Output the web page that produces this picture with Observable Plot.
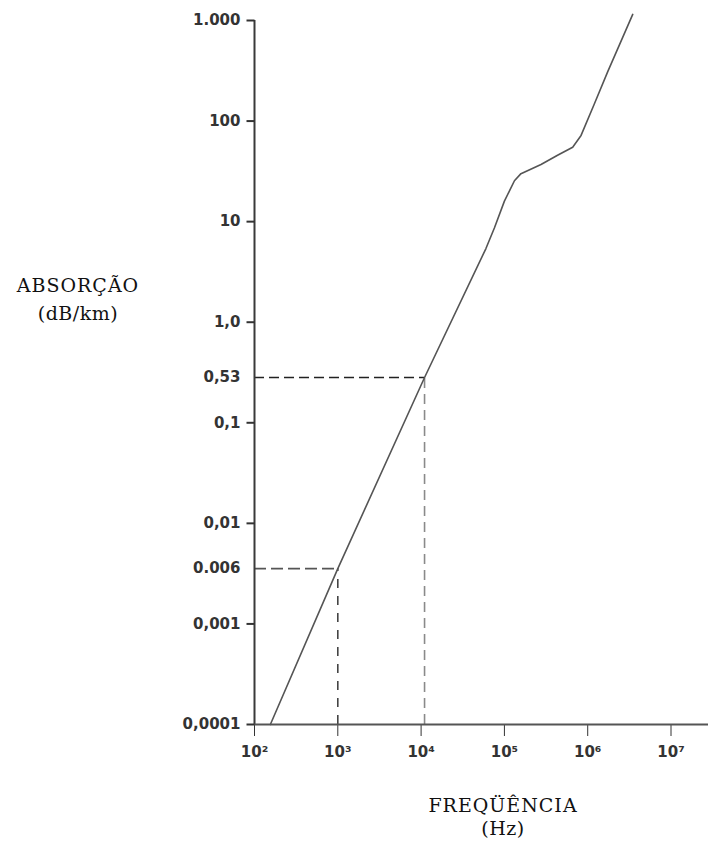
<!DOCTYPE html>
<html>
<head>
<meta charset="utf-8">
<script src="https://cdn.jsdelivr.net/npm/d3@7"></script>
<script src="https://cdn.jsdelivr.net/npm/@observablehq/plot@0.6"></script>
<style>
  html, body { margin: 0; padding: 0; background: #fff; }
  #wrap { position: relative; width: 714px; height: 841px; }
  .lab { position: absolute; font-family: "DejaVu Serif", serif; font-size: 19px; color: #111; text-align: center; white-space: nowrap; }
</style>
</head>
<body>
<div id="wrap"></div>
<script>
// Frequency (Hz) and absorption (dB/km)
const curveFreq = [155, 1000, 11000, 60000, 76000, 100000, 132000, 158000, 275000, 440000, 660000, 832000, 1200000, 1740000, 2630000, 3470000];
const curveAbs  = [0.0001, 0.006, 0.53, 5.4, 8.7, 16, 25.5, 30, 37, 46, 55, 72, 148, 310, 680, 1150];

// dashed guide lines (frequency, absorption)
const guideFreq = [1000, 11000];
const guideAbs  = [0.006, 0.53];

// y tick values and labels as printed
const yTicks      = [0.0001, 0.001, 0.006, 0.01, 0.1, 0.53, 1, 10, 100, 1000];
const yTickLabels = ["0,0001", "0,001", "0.006", "0,01", "0,1", "0,53", "1,0", "10", "100", "1.000"];
// decade level at which each printed tick sits on the original axis
const yTickLevels = [-4, -3, -2.45, -2, -1, -0.55, 0, 1, 2, 3];

// x ticks
const xTicks = [1e2, 1e3, 1e4, 1e5, 1e6, 1e7];
const xTickLabels = ["10²", "10³", "10⁴", "10⁵", "10⁶", "10⁷"];

const W = 714, H = 841;
const mTop = 20, mBottom = 117, mLeft = 254, mRight = 6;
const yBottom = H - mBottom, decadePx = (yBottom - mTop) / 7;
const yRange = yTickLevels.map(l => yBottom - (l + 4) * decadePx);
const xMin = 100, xMax = Math.pow(10, 7.45);
const yMin = yTicks[0];

const idx = d3.range(curveFreq.length);
const yTickMarks = yTicks.filter(v => !guideAbs.includes(v));

// short horizontal tick pointing left from the axis
const leftTick = {draw(ctx) { ctx.moveTo(-8, 0); ctx.lineTo(0, 0); }};

const chart = Plot.plot({
  width: W,
  height: H,
  marginTop: mTop,
  marginBottom: mBottom,
  marginLeft: mLeft,
  marginRight: mRight,
  style: {fontFamily: "DejaVu Sans", fontWeight: "bold", fontSize: "15px", color: "#333", background: "#fff"},
  x: {
    type: "log",
    domain: [xMin, xMax],
    ticks: xTicks,
    tickFormat: (d) => xTickLabels[xTicks.indexOf(d)],
    tickSize: 12,
    tickPadding: 10,
    label: null
  },
  y: {
    type: "log",
    domain: yTicks,
    range: yRange,
    axis: null
  },
  marks: [
    // dashed guides
    Plot.ruleY([guideAbs[1]], {x1: xMin, x2: guideFreq[1], stroke: "#222", strokeWidth: 1.6, strokeDasharray: "10,5"}),
    Plot.ruleX([guideFreq[1]], {y1: yMin, y2: guideAbs[1], stroke: "#8a8a8a", strokeWidth: 1.6, strokeDasharray: "10,6"}),
    Plot.ruleY([guideAbs[0]], {x1: xMin, x2: guideFreq[0], stroke: "#555", strokeWidth: 1.6, strokeDasharray: "12,5"}),
    Plot.ruleX([guideFreq[0]], {y1: yMin, y2: guideAbs[0], stroke: "#444", strokeWidth: 1.6, strokeDasharray: "9,8"}),
    // axes lines
    Plot.ruleX([xMin], {stroke: "#3a3a3a", strokeWidth: 2}),
    Plot.ruleY([yMin], {stroke: "#555", strokeWidth: 2}),
    // y axis ticks and labels
    Plot.dot(yTickMarks, {x: xMin, y: d => d, symbol: leftTick, stroke: "#333", strokeWidth: 2, fill: "none"}),
    Plot.text(yTicks, {x: xMin, y: d => d, text: (d, i) => yTickLabels[i], textAnchor: "end", dx: -14, fill: "#333"}),
    // curve
    Plot.line(idx, {x: i => curveFreq[i], y: i => curveAbs[i], stroke: "#555", strokeWidth: 1.6})
  ]
});

const wrap = document.getElementById("wrap");
wrap.appendChild(chart);

function addLabel(text, cx, top, ls) {
  const d = document.createElement("div");
  d.className = "lab";
  d.textContent = text;
  d.style.left = (cx - 100) + "px";
  d.style.width = "200px";
  d.style.top = top + "px";
  d.style.letterSpacing = ls + "px";
  wrap.appendChild(d);
}
addLabel("ABSORÇÃO", 78, 274, 1);
addLabel("(dB/km)", 78, 302, 0.5);
addLabel("FREQÜÊNCIA", 503, 794, 1);
addLabel("(Hz)", 503, 817, 0.5);
</script>
</body>
</html>
